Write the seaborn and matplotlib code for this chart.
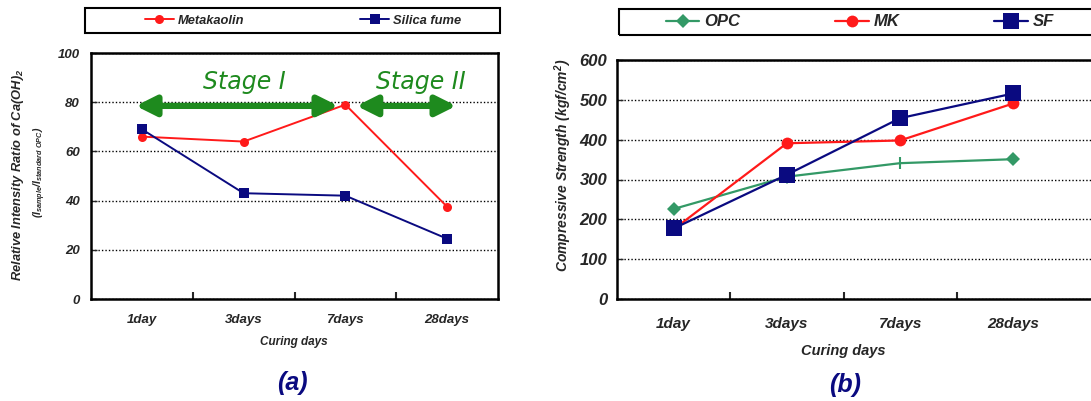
import numpy as np
import pandas as pd
import matplotlib
matplotlib.use("Agg")
import matplotlib.pyplot as plt
from matplotlib.patches import Rectangle
import seaborn as sns

# data
days = ["1day", "3days", "7days", "28days"]

# (a) relative intensity ratio of Ca(OH)2
mk_ratio = [66, 64, 79, 37.5]
sf_ratio = [69, 43, 42, 24.5]

# (b) compressive strength, kgf/cm2
opc_str = [226, 307, 341, 351]
mk_str = [175, 391, 398, 491]
sf_str = [177, 312, 454, 516]

sns.set_theme(style="white")
plt.rcParams["font.family"] = ["Liberation Sans", "DejaVu Sans"]
plt.rcParams["font.weight"] = "bold"
plt.rcParams["font.style"] = "italic"
plt.rcParams["mathtext.fontset"] = "custom"
plt.rcParams["mathtext.rm"] = "Liberation Sans:bold:italic"
plt.rcParams["mathtext.it"] = "Liberation Sans:bold:italic"
plt.rcParams["mathtext.bf"] = "Liberation Sans:bold:italic"

RED = "#ff1a1a"
NAVY = "#0a0a80"
GREEN = "#339966"
ARROW = "#1e8a1e"

W, H = 1091, 401
fig = plt.figure(figsize=(W / 100, H / 100), dpi=100)


def px(x0, y0, x1, y1):
    return [x0 / W, 1 - y1 / H, (x1 - x0) / W, (y1 - y0) / H]


def style_axes(ax, ymax, ystep, xfs, yfs, xpad, ypad, right_spine=True):
    ax.set_ylim(0, ymax)
    ax.set_yticks(np.arange(0, ymax + 1, ystep))
    ax.set_xticks(range(len(days)))
    ax.set_xticklabels(days)
    ax.set_xticks([0.5, 1.5, 2.5], minor=True)
    ax.tick_params(axis="x", which="major", length=0, pad=xpad, labelsize=xfs)
    ax.tick_params(axis="x", which="minor", direction="in", length=5, width=1.5, bottom=True)
    ax.tick_params(axis="y", direction="in", length=4, width=1, left=True, pad=ypad, labelsize=yfs)
    for lab in ax.get_xticklabels() + ax.get_yticklabels():
        lab.set_fontweight("bold")
        lab.set_fontstyle("italic")
    ax.yaxis.grid(True, linestyle=(0, (1, 1.5)), color="black", lw=1)
    ax.xaxis.grid(False)
    for s in ax.spines.values():
        s.set_color("black")
        s.set_linewidth(1.8)
    ax.spines["right"].set_visible(right_spine)
    ax.set_xlabel("")
    ax.set_ylabel("")


# ---------------- panel (a)
ax1 = fig.add_axes(px(91, 53, 498, 299))
df_a = pd.DataFrame({"day": days, "mk": mk_ratio, "sf": sf_ratio})
sns.lineplot(data=df_a, x="day", y="mk", ax=ax1, color=RED, lw=1.4, marker="o",
             markersize=6.5, markeredgewidth=0, label="Metakaolin", sort=False)
sns.lineplot(data=df_a, x="day", y="sf", ax=ax1, color=NAVY, lw=1.4, marker="s",
             markersize=7.5, markeredgewidth=0, label="Silica fume", sort=False)
ax1.set_xlim(-0.5, 3.5)
style_axes(ax1, 100, 20, 9.5, 9.5, 11, 8)
h1, l1 = ax1.get_legend_handles_labels()
ax1.get_legend().remove()

# stage arrows
arr = dict(arrowstyle="<|-|>", color=ARROW, lw=4.5, mutation_scale=30, shrinkA=0, shrinkB=0)
ax1.annotate("", xy=(-0.06, 78.5), xytext=(1.93, 78.5), arrowprops=arr)
ax1.annotate("", xy=(2.11, 78.5), xytext=(3.09, 78.5), arrowprops=arr)
ax1.text(1.01, 88.3, "Stage I", color=ARROW, fontsize=17, family="DejaVu Sans",
         fontweight="normal", fontstyle="italic", ha="center", va="center")
ax1.text(2.74, 88.3, "Stage II", color=ARROW, fontsize=17, family="DejaVu Sans",
         fontweight="normal", fontstyle="italic", ha="center", va="center")

fig.text(294 / W, 1 - 342 / H, "Curing days", fontsize=8.5, ha="center", va="center")
fig.text(18 / W, 1 - 175 / H, "Relative Intensity Ratio of Ca(OH)$_2$", fontsize=9.3,
         rotation=90, ha="center", va="center")
fig.text(40 / W, 1 - 172 / H, r"$(I_{sample}/I_{standard\ OPC})$", fontsize=7.5,
         rotation=90, ha="center", va="center")
fig.text(292 / W, 1 - 383 / H, "(a)", fontsize=18, color=NAVY, ha="center", va="center")

fig.patches.append(Rectangle((85 / W, 1 - 33 / H), 415 / W, 25 / H, transform=fig.transFigure,
                             fill=False, ec="black", lw=1.5))
fig.legend(h1, l1, loc="center", bbox_to_anchor=(303 / W, 1 - 20.5 / H), ncol=2,
           frameon=False, handlelength=2.2, handletextpad=0.3, columnspacing=9,
           prop={"weight": "bold", "style": "italic", "size": 9.3})

# ---------------- panel (b)
ax2 = fig.add_axes(px(617, 60, 1100, 299))
df_b = pd.DataFrame({"day": days, "opc": opc_str, "mk": mk_str, "sf": sf_str})
sns.lineplot(data=df_b, x="day", y="opc", ax=ax2, color=GREEN, lw=1.6, marker="D",
             markersize=7, markeredgewidth=0, markevery=[0, 1, 3], label="OPC", sort=False)
ax2.plot(days[2], opc_str[2], marker="|", color=GREEN, markersize=9, markeredgewidth=1.5)
sns.lineplot(data=df_b, x="day", y="mk", ax=ax2, color=RED, lw=1.6, marker="o",
             markersize=8.5, markeredgewidth=0, label="MK", sort=False)
sns.lineplot(data=df_b, x="day", y="sf", ax=ax2, color=NAVY, lw=1.6, marker="s",
             markersize=11, markeredgewidth=0, label="SF", sort=False)
ax2.set_xlim(-0.5, -0.5 + 483 / 113.25)
style_axes(ax2, 600, 100, 11, 12, 13, 7, right_spine=False)
h2, l2 = ax2.get_legend_handles_labels()
ax2.get_legend().remove()

fig.text(843 / W, 1 - 351 / H, "Curing days", fontsize=10.5, ha="center", va="center")
fig.text(563 / W, 1 - 165 / H, "Compressive Strength (kgf/cm$^2$)", fontsize=10,
         rotation=90, ha="center", va="center")
fig.text(845 / W, 1 - 385 / H, "(b)", fontsize=18, color=NAVY, ha="center", va="center")

fig.patches.append(Rectangle((619 / W, 1 - 35 / H), 481 / W, 26 / H, transform=fig.transFigure,
                             fill=False, ec="black", lw=1.5))
fig.legend(h2, l2, loc="center", bbox_to_anchor=(860 / W, 1 - 22 / H), ncol=3,
           frameon=False, handlelength=2.0, handletextpad=0.3, columnspacing=5.7,
           prop={"weight": "bold", "style": "italic", "size": 12})

fig.savefig("out.png", dpi=100)
